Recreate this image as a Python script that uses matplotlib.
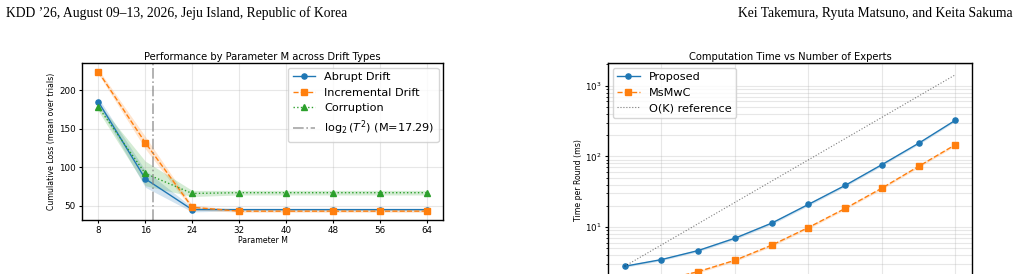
import matplotlib.pyplot as plt
import numpy as np

# left panel: cumulative loss vs parameter M
M = [8, 16, 24, 32, 40, 48, 56, 64]
abrupt = [185, 85, 45, 45, 45, 45, 45, 45]
abrupt_sd = [5, 11, 3, 1.5, 1.5, 1.5, 1.5, 1.5]
incremental = [224, 132, 48, 43, 43, 43, 43, 43]
incremental_sd = [3, 8, 3, 1.5, 1.5, 1.5, 1.5, 1.5]
corruption = [178, 92, 66, 67, 67, 67, 67, 67]
corruption_sd = [5, 16, 4, 3, 3, 3, 3, 3]
m_log = 17.29

# right panel: time per round vs number of experts
K = [2, 4, 8, 16, 32, 64, 128, 256, 512, 1024]
proposed = [2.8, 3.48, 4.67, 6.98, 11.4, 21.0, 39.0, 76.7, 154, 326]
proposed_sd = [0.1, 0.12, 0.17, 0.3, 0.5, 0.9, 1.6, 3.0, 6.0, 12]
msmwc = [1.45, 1.77, 2.35, 3.40, 5.56, 9.9, 18.4, 35.7, 72.6, 147]
msmwc_sd = [0.06, 0.07, 0.09, 0.14, 0.22, 0.4, 0.7, 1.4, 2.8, 5.5]
ok_ref = [2.8, 5.6, 11.2, 22.4, 44.8, 89.6, 179, 358, 717, 1434]

s = 0.62
lw = 1.6 * s
ms = 6 * s
tick_fs = 6.3
label_fs = 5.6
title_fs = 7.2
legend_fs = 8.1

fig = plt.figure(figsize=(10.21, 2.74), dpi=100)

fig.text(6 / 1021, 1 - 16.7 / 274, "KDD \u201926, August 09\u201313, 2026, Jeju Island, Republic of Korea",
         family='Liberation Serif', fontsize=9.8, va='baseline', ha='left')
fig.text(1013 / 1021, 1 - 16.7 / 274, "Kei Takemura, Ryuta Matsuno, and Keita Sakuma",
         family='Liberation Serif', fontsize=9.8, va='baseline', ha='right')

ax1 = fig.add_axes([82 / 1021, 54 / 274, 361 / 1021, 157 / 274])
ax2 = fig.add_axes([608 / 1021, (274 - 297.6) / 274, 364 / 1021, 234.6 / 274])

def band(ax, x, y, sd, color):
    y = np.array(y, dtype=float)
    sd = np.array(sd, dtype=float)
    ax.fill_between(x, y - sd, y + sd, color=color, alpha=0.2, linewidth=0)

band(ax1, M, abrupt, abrupt_sd, 'tab:blue')
band(ax1, M, incremental, incremental_sd, 'tab:orange')
band(ax1, M, corruption, corruption_sd, 'tab:green')
ax1.plot(M, abrupt, '-o', color='tab:blue', lw=lw, ms=ms, label='Abrupt Drift')
ax1.plot(M, incremental, '--s', color='tab:orange', lw=lw, ms=ms, label='Incremental Drift')
ax1.plot(M, corruption, ':^', color='tab:green', lw=lw, ms=ms, label='Corruption')
ax1.axvline(m_log, color='gray', linestyle='-.', lw=1.2, alpha=0.7,
            label=r'$\log_2(T^2)$ (M=%.2f)' % m_log)
ax1.set_xticks(M)
ax1.set_xlim(5.2, 66.8)
ax1.set_ylim(31.5, 235.5)
ax1.set_xlabel('Parameter M', fontsize=label_fs, labelpad=1)
ax1.set_ylabel('Cumulative Loss (mean over trials)', fontsize=label_fs, labelpad=2)
ax1.set_title('Performance by Parameter M across Drift Types', fontsize=title_fs, pad=2.5)
ax1.grid(True, alpha=0.3)
ax1.legend(loc='upper right', fontsize=legend_fs, borderaxespad=0.4, handlelength=2.0)

band(ax2, K, proposed, proposed_sd, 'tab:blue')
band(ax2, K, msmwc, msmwc_sd, 'tab:orange')
ax2.plot(K, proposed, '-o', color='tab:blue', lw=lw, ms=ms, label='Proposed')
ax2.plot(K, msmwc, '--s', color='tab:orange', lw=lw, ms=ms, label='MsMwC')
ax2.plot(K, ok_ref, ':', color='k', lw=0.8, alpha=0.5, label='O(K) reference')
ax2.set_xscale('log', base=2)
ax2.set_yscale('log')
ax2.set_xticks([4, 16, 64, 256, 1024])
ax2.set_ylim(1.01, 2100)
ax2.set_ylabel('Time per Round (ms)', fontsize=label_fs, labelpad=2)
ax2.set_title('Computation Time vs Number of Experts', fontsize=title_fs, pad=2.5)
ax2.grid(True, which='major', alpha=0.3)
ax2.grid(True, which='minor', axis='y', alpha=0.3)
ax2.legend(loc='upper left', fontsize=legend_fs, borderaxespad=0.4, handlelength=2.0)

for ax in (ax1, ax2):
    ax.tick_params(labelsize=tick_fs, length=3.5 * s, pad=3.5 * s)
    ax.tick_params(which='minor', length=2 * s)
    for sp in ax.spines.values():
        sp.set_linewidth(1.0)
# the bottom of the right panel lies below the page crop
ax2.tick_params(axis='x', which='both', labelbottom=False)

fig.savefig('out.png', dpi=100)
